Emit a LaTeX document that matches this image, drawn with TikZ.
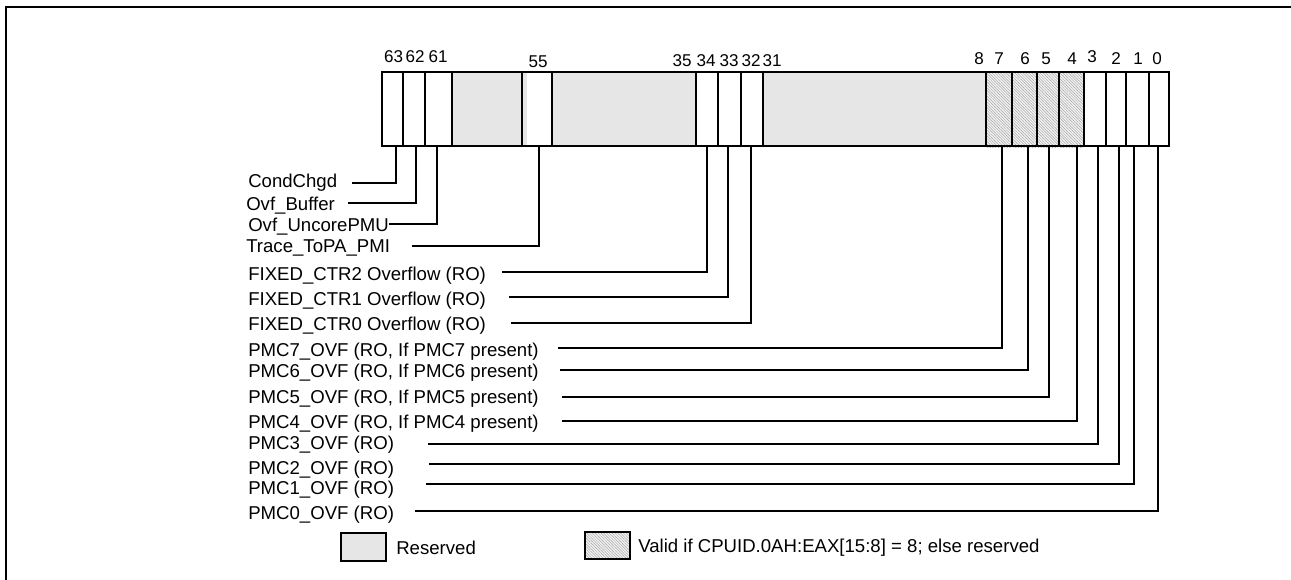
\documentclass[tikz,border=0pt]{standalone}
\usepackage{fontspec}
\setmainfont{Liberation Sans}
\usetikzlibrary{patterns.meta}
\definecolor{resgray}{RGB}{230,230,230}
\begin{document}
\begin{tikzpicture}[x=0.75pt,y=-0.75pt,
  every node/.style={font=\fontsize{13.95pt}{16pt}\selectfont, inner sep=0pt},
  lbl/.style={anchor=base west},
  bitnum/.style={anchor=base, font=\fontsize{12.8pt}{15pt}\selectfont},
  leader/.style={line width=1pt},
  divider/.style={line width=1pt},
  frame/.style={line width=1.6pt},
  resfill/.style={fill=resgray},
  hatch/.style={preaction={fill=gray!10}, pattern={Lines[angle=-45,distance=1.5pt,line width=0.35pt]}, pattern color=gray!70}
]
\useasboundingbox (0,0) rectangle (1291,580);
% outer frame
\draw[frame] (6,582) -- (6,7) -- (1293,7);

% reserved fields
\fill[resfill] (452,72) rectangle (527,146);
\fill[resfill] (552,72) rectangle (695,146);
\fill[resfill] (763,72) rectangle (986,146);
% hatched fields
\path[hatch] (987,72) rectangle (1011,148);
\path[hatch] (1013,72) rectangle (1036,148);
\path[hatch] (1038,72) rectangle (1058,148);
\path[hatch] (1060,72) rectangle (1083,148);

% dividers
\foreach \x in {403,425,452,522,552,696,718,741,763,986,1012,1037,1059,1084,1106,1126,1149}
  \draw[divider] (\x,72) -- (\x,146);
% register outline
\draw[frame] (382,72) rectangle (1169,146);

% bit numbers
\node[bitnum] (n63) at (393.5,63) {63};
\node[bitnum] (n62) at (415,63) {62};
\node[bitnum] (n61) at (438,63) {61};
\node[bitnum] (n55) at (538,68) {55};
\node[bitnum] (n35) at (682,67) {35};
\node[bitnum] (n34) at (706,67) {34};
\node[bitnum] (n33) at (729,67) {33};
\node[bitnum] (n32) at (751,67) {32};
\node[bitnum] (n31) at (772,67) {31};
\node[bitnum] (n8) at (979,65) {8};
\node[bitnum] (n7) at (999,65) {7};
\node[bitnum] (n6) at (1025,65) {6};
\node[bitnum] (n5) at (1046,65) {5};
\node[bitnum] (n4) at (1072,65) {4};
\node[bitnum] (n3) at (1092,63) {3};
\node[bitnum] (n2) at (1116,65) {2};
\node[bitnum] (n1) at (1138,65) {1};
\node[bitnum] (n0) at (1157,65) {0};

% bit anchor points
\coordinate (b63) at (396,146);
\coordinate (b62) at (416,146);
\coordinate (b61) at (437,146);
\coordinate (b55) at (539,146);
\coordinate (b34) at (707,146);
\coordinate (b33) at (728,146);
\coordinate (b32) at (751,146);
\coordinate (b7) at (1002,146);
\coordinate (b6) at (1028,146);
\coordinate (b5) at (1049,146);
\coordinate (b4) at (1077,146);
\coordinate (b3) at (1098,146);
\coordinate (b2) at (1119,146);
\coordinate (b1) at (1134,146);
\coordinate (b0) at (1158,146);

% labels
\node[lbl] (l63) at (248,188) {CondChgd};
\node[lbl] (l62) at (246,211) {Ovf\_Buffer};
\node[lbl] (l61) at (248,232) {Ovf\_UncorePMU};
\node[lbl] (l55) at (246,253) {Trace\_ToPA\_PMI};
\node[lbl] (l34) at (248,281) {FIXED\_CTR2 Overflow (RO)};
\node[lbl] (l33) at (248,306) {FIXED\_CTR1 Overflow (RO)};
\node[lbl] (l32) at (248,331) {FIXED\_CTR0 Overflow (RO)};
\node[lbl] (l7) at (248,357) {PMC7\_OVF (RO, If PMC7 present)};
\node[lbl] (l6) at (248,378) {PMC6\_OVF (RO, If PMC6 present)};
\node[lbl] (l5) at (248,403) {PMC5\_OVF (RO, If PMC5 present)};
\node[lbl] (l4) at (248,428) {PMC4\_OVF (RO, If PMC4 present)};
\node[lbl] (l3) at (248,449) {PMC3\_OVF (RO)};
\node[lbl] (l2) at (248,474) {PMC2\_OVF (RO)};
\node[lbl] (l1) at (248,494) {PMC1\_OVF (RO)};
\node[lbl] (l0) at (248,519) {PMC0\_OVF (RO)};

% leader start points
\coordinate (s63) at (352,183);
\coordinate (s62) at (348,203);
\coordinate (s61) at (389,224);
\coordinate (s55) at (412,246);
\coordinate (s34) at (502,272);
\coordinate (s33) at (509,297);
\coordinate (s32) at (511,323);
\coordinate (s7) at (558,348);
\coordinate (s6) at (560,370);
\coordinate (s5) at (562,397);
\coordinate (s4) at (562,421);
\coordinate (s3) at (428,444);
\coordinate (s2) at (429,464);
\coordinate (s1) at (426,484);
\coordinate (s0) at (415,511);

% leaders
\foreach \b in {63,62,61,55,34,33,32,7,6,5,4,3,2,1,0}
  \draw[leader] (s\b) -| (b\b);

% legend
\draw[line width=1pt, resfill] (341,533) rectangle (386,561);
\node[lbl] (legres) at (396,554) {Reserved};
\draw[line width=1pt, hatch] (585,532) rectangle (630,559);
\node[lbl] (leghatch) at (638,552) {Valid if CPUID.0AH:EAX[15:8] = 8; else reserved};
\end{tikzpicture}
\end{document}
